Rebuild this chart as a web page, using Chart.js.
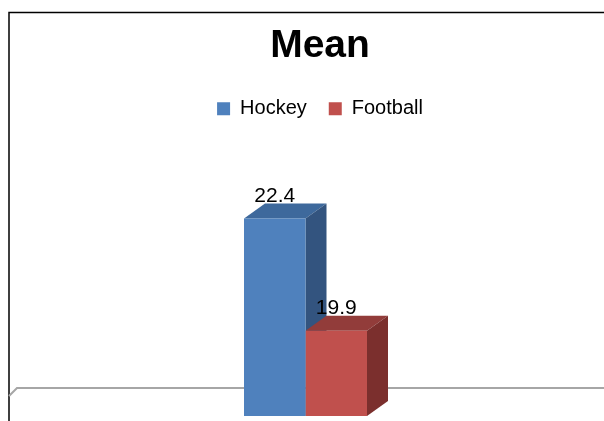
<!DOCTYPE html>
<html lang="en">
<head>
    <meta charset="UTF-8">
    <title>Mean</title>
    <script src="https://cdn.jsdelivr.net/npm/chart.js@4"></script>
    <style>
        body {
            margin: 0;
            background: #fff;
        }
        #boks {
            position: relative;
            width: 604px;
            height: 421px;
        }
    </style>
</head>
<body>
    <div id="boks">
        <canvas id="graf"></canvas>
    </div>

    <script>
        // data
        const categories = ['Mean'];
        const seriesNames = ['Hockey', 'Football'];
        const hockeyValues = [22.4];
        const footballValues = [19.9];
        const axisMin = 18;
        const axisMax = 24.4;

        const fontName = "'Liberation Sans', Arial, sans-serif";
        const depthX = 21;
        const depthY = 15;

        // frame, floor, 3d top and side faces
        const kube = {
            id: 'kube',
            beforeDatasetsDraw(chart) {
                const ctx = chart.ctx;
                const base = chart.scales.y.getPixelForValue(axisMin);
                ctx.save();

                ctx.strokeStyle = '#000';
                ctx.lineWidth = 1.5;
                ctx.beginPath();
                ctx.moveTo(9, chart.height);
                ctx.lineTo(9, 12.5);
                ctx.lineTo(chart.width, 12.5);
                ctx.stroke();

                ctx.strokeStyle = '#a6a6a6';
                ctx.lineWidth = 2;
                ctx.beginPath();
                ctx.moveTo(9, base - 20);
                ctx.lineTo(17, base - 28);
                ctx.lineTo(chart.width, base - 28);
                ctx.stroke();

                chart.data.datasets.forEach((ds, i) => {
                    chart.getDatasetMeta(i).data.forEach(bar => {
                        const l = bar.x - bar.width / 2;
                        const r = bar.x + bar.width / 2;
                        ctx.fillStyle = ds.topColor;
                        ctx.beginPath();
                        ctx.moveTo(l, bar.y);
                        ctx.lineTo(l + depthX, bar.y - depthY);
                        ctx.lineTo(r + depthX, bar.y - depthY);
                        ctx.lineTo(r, bar.y);
                        ctx.closePath();
                        ctx.fill();

                        // bars are cut at the axis minimum, so the side stops there too
                        ctx.fillStyle = ds.sideColor;
                        ctx.beginPath();
                        ctx.moveTo(r, bar.y);
                        ctx.lineTo(r + depthX, bar.y - depthY);
                        ctx.lineTo(r + depthX, base - depthY);
                        ctx.lineTo(r, base);
                        ctx.closePath();
                        ctx.fill();
                    });
                });
                ctx.restore();
            },
            afterDatasetsDraw(chart) {
                const ctx = chart.ctx;
                ctx.save();
                ctx.font = '21px ' + fontName;
                ctx.fillStyle = '#000';
                ctx.textAlign = 'center';
                ctx.textBaseline = 'alphabetic';
                chart.data.datasets.forEach((ds, i) => {
                    chart.getDatasetMeta(i).data.forEach((bar, j) => {
                        ctx.fillText(ds.data[j].toFixed(1), bar.x, bar.y - depthY - 2);
                    });
                });
                ctx.restore();
            }
        };

        new Chart(document.getElementById('graf'), {
            type: 'bar',
            data: {
                labels: categories,
                datasets: [{
                    label: seriesNames[0],
                    data: hockeyValues,
                    backgroundColor: '#4f81bd',
                    topColor: '#3e699c',
                    sideColor: '#33547f',
                    borderWidth: 0
                }, {
                    label: seriesNames[1],
                    data: footballValues,
                    backgroundColor: '#c0504d',
                    topColor: '#923c3a',
                    sideColor: '#7b2f2d',
                    borderWidth: 0
                }]
            },
            options: {
                responsive: true,
                maintainAspectRatio: false,
                animation: false,
                layout: {
                    padding: { left: 36, right: 0, top: 0, bottom: 5 }
                },
                datasets: {
                    bar: {
                        barPercentage: 1,
                        categoryPercentage: 0.2282
                    }
                },
                plugins: {
                    title: {
                        display: true,
                        text: 'Mean',
                        color: '#000',
                        font: { family: fontName, size: 39, weight: 'bold' },
                        padding: { top: 23, bottom: 7 }
                    },
                    legend: {
                        labels: {
                            color: '#000',
                            boxWidth: 13,
                            boxHeight: 13,
                            padding: 22,
                            font: { family: fontName, size: 20 }
                        }
                    },
                    tooltip: { enabled: false }
                },
                scales: {
                    x: { display: false },
                    y: {
                        position: 'right',
                        min: axisMin,
                        max: axisMax,
                        grid: { display: false },
                        border: { display: false },
                        ticks: { display: false },
                        afterFit(scale) {
                            scale.width = 29;
                        }
                    }
                }
            },
            plugins: [kube]
        });
    </script>
</body>
</html>
